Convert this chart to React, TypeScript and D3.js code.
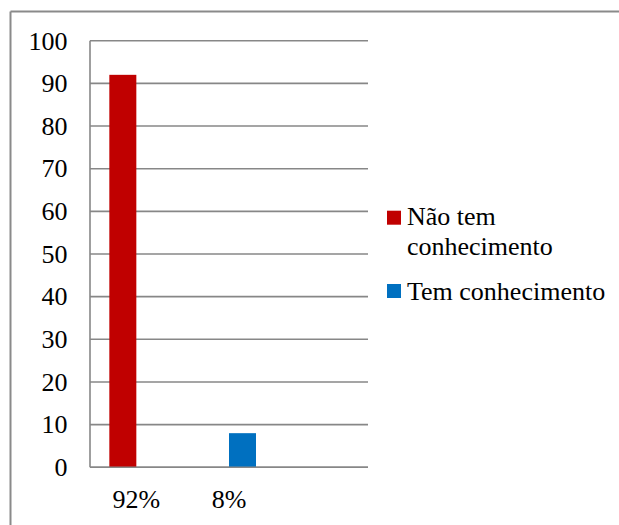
import React, { useEffect, useRef } from "react";
import * as d3 from "d3";

const categories = ["92%", "8%", ""];
const seriesNames = ["Não tem conhecimento", "Tem conhecimento"];
const naoTemConhecimento = [92, 0, 0];
const temConhecimento = [0, 8, 0];
const yTicks = [0, 10, 20, 30, 40, 50, 60, 70, 80, 90, 100];
const colors = ["#C00000", "#0070C0"];

const W = 619;
const H = 525;
const SERIF = '"Times New Roman"';

export default function App() {
  const ref = useRef<SVGSVGElement>(null);

  useEffect(() => {
    const svg = d3.select(ref.current);
    svg.selectAll("*").remove();

    const plot = { left: 90, right: 368, top: 40.7, bottom: 467.3 };
    const y = d3.scaleLinear().domain([0, 100]).range([plot.bottom, plot.top]);
    const x = d3
      .scaleBand<string>()
      .domain(categories.map((_, i) => String(i)))
      .range([plot.left, plot.right])
      .padding(0);
    const inner = d3
      .scaleBand<string>()
      .domain(seriesNames)
      .range([0, x.bandwidth()])
      .paddingInner(0)
      .paddingOuter(0.716);
    const series = [naoTemConhecimento, temConhecimento];
    const grid = "#878787";

    const txt = (sel: any) =>
      sel.style("font-family", SERIF).style("font-size", "26px").attr("fill", "#000");

    // outer frame, top and left edges
    svg.append("line").attr("x1", 10.5).attr("x2", W).attr("y1", 11.5).attr("y2", 11.5)
      .attr("stroke", "#8a8a8a").attr("stroke-width", 2);
    svg.append("line").attr("x1", 10.5).attr("x2", 10.5).attr("y1", 11.5).attr("y2", H)
      .attr("stroke", "#8a8a8a").attr("stroke-width", 2);

    // gridlines
    svg.selectAll("line.grid").data(yTicks).join("line").attr("class", "grid")
      .attr("x1", plot.left).attr("x2", plot.right)
      .attr("y1", (d) => y(d)).attr("y2", (d) => y(d))
      .attr("stroke", grid).attr("stroke-width", 1.6);

    // y tick labels
    svg.selectAll("text.ytick").data(yTicks).join("text").attr("class", "ytick")
      .attr("x", 67.5).attr("y", (d) => y(d) + 8.8).attr("text-anchor", "end")
      .call(txt).text((d) => String(d));

    // y axis line
    svg.append("line").attr("x1", plot.left).attr("x2", plot.left)
      .attr("y1", plot.top).attr("y2", plot.bottom).attr("stroke", grid).attr("stroke-width", 1.6);

    // bars
    series.forEach((vals, si) => {
      svg.selectAll(`rect.s${si}`).data(vals.map((v, ci) => ({ v, ci })).filter((d) => d.v > 0))
        .join("rect").attr("class", `s${si}`)
        .attr("x", (d) => (x(String(d.ci)) as number) + (inner(seriesNames[si]) as number))
        .attr("y", (d) => y(d.v))
        .attr("width", inner.bandwidth())
        .attr("height", (d) => y(0) - y(d.v))
        .attr("fill", colors[si]);
    });

    // x axis line
    svg.append("line").attr("x1", plot.left).attr("x2", plot.right)
      .attr("y1", plot.bottom).attr("y2", plot.bottom).attr("stroke", grid).attr("stroke-width", 1.6);

    // category labels
    svg.selectAll("text.xcat").data(categories).join("text").attr("class", "xcat")
      .attr("x", (_, i) => (x(String(i)) as number) + x.bandwidth() / 2)
      .attr("y", 508).attr("text-anchor", "middle")
      .call(txt).text((d) => d);

    // legend
    svg.append("rect").attr("x", 387).attr("y", 210.7).attr("width", 14).attr("height", 14).attr("fill", colors[0]);
    svg.append("text").attr("x", 407).attr("y", 225).call(txt).text("Não tem");
    svg.append("text").attr("x", 407).attr("y", 255).call(txt).text("conhecimento");
    svg.append("rect").attr("x", 387).attr("y", 284).attr("width", 14).attr("height", 14).attr("fill", colors[1]);
    svg.append("text").attr("x", 407).attr("y", 300).call(txt).text("Tem conhecimento");
  }, []);

  return (
    <svg
      ref={ref}
      width={W}
      height={H}
      style={{ position: "absolute", left: 0, top: 0, background: "#fff" }}
    />
  );
}
